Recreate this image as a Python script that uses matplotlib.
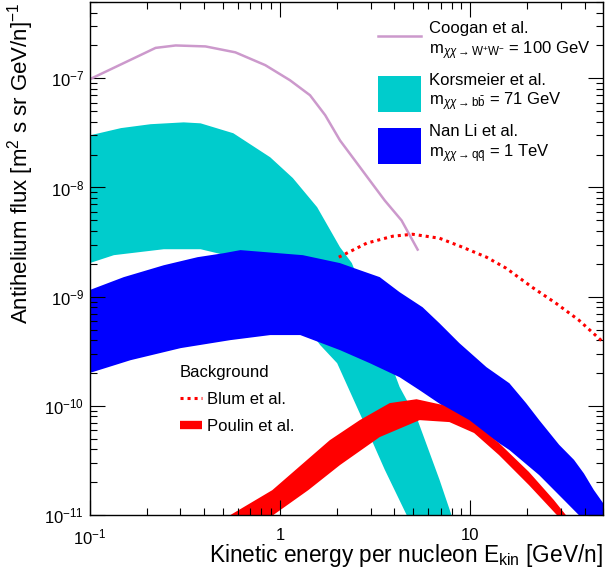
import numpy as np
import matplotlib
matplotlib.use('Agg')
import matplotlib.pyplot as plt
from matplotlib.lines import Line2D
from matplotlib.patches import Patch
from matplotlib.ticker import FixedLocator, FixedFormatter, LogLocator, NullFormatter

plt.rcParams['font.family'] = ['Liberation Sans', 'DejaVu Sans']
plt.rcParams['mathtext.fontset'] = 'custom'
plt.rcParams['mathtext.rm'] = 'Liberation Sans'
plt.rcParams['mathtext.it'] = 'Liberation Sans:italic'
plt.rcParams['mathtext.bf'] = 'Liberation Sans:bold'
plt.rcParams['mathtext.sf'] = 'Liberation Sans'

# --- data (E_kin in GeV/n, flux in [m^2 s sr GeV/n]^-1) ---
coogan_e = [0.1, 0.222, 0.283, 0.406, 0.583, 0.838, 1.13, 1.44, 1.73, 2.07, 2.48, 2.97, 3.56, 4.36, 5.3]
coogan_flux = [9.8e-8, 1.9e-7, 2.0e-7, 1.96e-7, 1.73e-7, 1.32e-7, 9.6e-8, 7.0e-8, 4.6e-8,
               2.7e-8, 1.77e-8, 1.16e-8, 7.6e-9, 5.0e-9, 2.7e-9]

korsmeier_hi_e = [0.1, 0.146, 0.209, 0.312, 0.383, 0.569, 0.890, 1.17, 1.57, 2.07, 2.39, 3.15,
                  4.26, 5.3, 6.91, 7.98, 8.3]
korsmeier_hi = [3.0e-8, 3.5e-8, 3.8e-8, 3.95e-8, 3.87e-8, 3.14e-8, 1.89e-8, 1.22e-8, 6.6e-9,
                2.84e-9, 2.03e-9, 6.1e-10, 1.49e-10, 7.4e-11, 2.1e-11, 1.0e-11, 8e-12]
korsmeier_lo_e = [0.1, 0.134, 0.245, 0.383, 0.517, 0.789, 1.13, 1.63, 2.00, 2.73, 3.56, 4.64, 4.9]
korsmeier_lo = [2.03e-9, 2.4e-9, 2.72e-9, 2.72e-9, 2.4e-9, 1.57e-9, 8.4e-10, 3.6e-10, 2.46e-10,
                7.4e-11, 2.6e-11, 1.0e-11, 8e-12]

nanli_hi_e = [0.1, 0.151, 0.245, 0.369, 0.505, 0.620, 1.32, 2.07, 2.63, 3.35, 4.26, 5.63, 6.91,
              8.79, 12.2, 16.1, 19.7, 23.1, 29.4, 35.2, 39.7, 44.7, 50, 60]
nanli_hi = [1.15e-9, 1.51e-9, 1.94e-9, 2.30e-9, 2.50e-9, 2.67e-9, 2.40e-9, 2.03e-9, 1.75e-9,
            1.51e-9, 1.10e-9, 8.0e-10, 5.7e-10, 3.75e-10, 2.26e-10, 1.61e-10, 1.06e-10, 7.4e-11,
            4.4e-11, 3.2e-11, 2.4e-11, 1.7e-11, 1.29e-11, 9e-12]
nanli_lo_e = [0.1, 0.164, 0.301, 0.549, 0.890, 1.28, 2.07, 2.97, 4.26, 5.43, 7.79, 11.2, 16.1,
              23.1, 31.2, 37.3, 42]
nanli_lo = [2.0e-10, 2.62e-10, 3.38e-10, 4.0e-10, 4.45e-10, 4.45e-10, 3.24e-10, 2.46e-10,
            1.83e-10, 1.39e-10, 9.1e-11, 6.0e-11, 3.94e-11, 2.32e-11, 1.37e-11, 1.0e-11, 7.5e-12]

blum_e = [2.04, 2.86, 3.92, 4.99, 6.91, 9.12, 12.2, 15.5, 21.2, 28.3, 37.3, 50]
blum_flux = [2.30e-9, 3.09e-9, 3.58e-9, 3.73e-9, 3.43e-9, 2.84e-9, 2.30e-9, 1.82e-9, 1.22e-9,
             8.7e-10, 6.1e-10, 3.84e-10]

poulin_hi_e = [0.499, 0.549, 0.912, 1.83, 2.63, 3.78, 5.23, 7.16, 9.92, 14.2, 20.4, 27.6, 31.9, 33.9]
poulin_hi = [9.0e-12, 1.0e-11, 1.69e-11, 4.85e-11, 7.4e-11, 1.06e-10, 1.15e-10, 1.02e-10, 7.4e-11,
             4.56e-11, 2.48e-11, 1.37e-11, 1.0e-11, 8.6e-12]
poulin_lo_e = [0.848, 0.923, 1.41, 2.07, 3.35, 5.43, 7.79, 10.5, 14.2, 20.4, 28.6, 30.1]
poulin_lo = [9.0e-12, 1.0e-11, 1.69e-11, 2.87e-11, 5.18e-11, 7.4e-11, 7.1e-11, 5.64e-11, 3.54e-11,
             1.88e-11, 1.0e-11, 9.0e-12]

x_ticks = [0.1, 1, 10]
x_tick_labels = ['$10^{-1}$', '1', '10']
y_ticks = [1e-11, 1e-10, 1e-9, 1e-8, 1e-7]
y_tick_labels = ['$10^{-11}$', '$10^{-10}$', '$10^{-9}$', '$10^{-8}$', '$10^{-7}$']

c_coogan = '#cc99cc'
c_kors = '#00cccc'
c_nanli = '#0000ff'
c_red = '#ff0000'


def band(ax, e_hi, f_hi, e_lo, f_lo, color):
    xs = list(e_hi) + list(e_lo)[::-1]
    ys = list(f_hi) + list(f_lo)[::-1]
    return ax.fill(xs, ys, color=color, lw=0)


fig = plt.figure(figsize=(6.05, 5.75), dpi=100)
ax = fig.add_axes([0.1483, 0.1043, 0.8484, 0.8922])
ax.set_xscale('log')
ax.set_yscale('log')

band(ax, korsmeier_hi_e, korsmeier_hi, korsmeier_lo_e, korsmeier_lo, c_kors)
band(ax, nanli_hi_e, nanli_hi, nanli_lo_e, nanli_lo, c_nanli)
ax.plot(coogan_e, coogan_flux, color=c_coogan, lw=1.8)
band(ax, poulin_hi_e, poulin_hi, poulin_lo_e, poulin_lo, c_red)
ax.plot(blum_e, blum_flux, color=c_red, lw=2.2, linestyle=(0, (1, 1.3)), dash_capstyle='butt')

ax.set_xlim(0.1, 50)
ax.set_ylim(1e-11, 5e-7)

# ROOT-like ticks
ax.xaxis.set_major_locator(FixedLocator(x_ticks))
ax.xaxis.set_major_formatter(FixedFormatter(x_tick_labels))
ax.xaxis.set_minor_locator(LogLocator(base=10, subs=np.arange(2, 10)))
ax.xaxis.set_minor_formatter(NullFormatter())
ax.yaxis.set_major_locator(FixedLocator(y_ticks))
ax.yaxis.set_major_formatter(FixedFormatter(y_tick_labels))
ax.yaxis.set_minor_locator(LogLocator(base=10, subs=np.arange(2, 10)))
ax.yaxis.set_minor_formatter(NullFormatter())
ax.tick_params(which='both', direction='in', top=True, right=True, width=0.8, labelsize=12)
ax.tick_params(which='major', length=10.5)
ax.tick_params(which='minor', length=5)
ax.tick_params(axis='x', which='major', pad=9)
ax.tick_params(axis='y', which='major', pad=4)
for s in ax.spines.values():
    s.set_linewidth(1.0)

ax.set_xlabel(r'Kinetic energy per nucleon E$_{\mathrm{kin}}$ [GeV/n]', fontsize=16.3, loc='right')
ax.xaxis.set_label_coords(1.0, -0.052)
ax.set_ylabel(r'Antihelium flux [m$^{2}$ s sr GeV/n]$^{-1}$', fontsize=16, loc='top')
ax.yaxis.set_label_coords(-0.105, 1.0)

# signal legend
sig_handles = [Line2D([], [], color=c_coogan, lw=1.8),
               Patch(facecolor=c_kors, edgecolor='none'),
               Patch(facecolor=c_nanli, edgecolor='none')]
sig_labels = ['Coogan et al.\n' + r'm$_{\chi\chi\rightarrow\mathrm{W^{+}W^{-}}}$ = 100 GeV',
              'Korsmeier et al.\n' + r'm$_{\chi\chi\rightarrow\mathrm{b\bar{b}}}$ = 71 GeV',
              'Nan Li et al.\n' + r'm$_{\chi\chi\rightarrow\mathrm{q\bar{q}}}$ = 1 TeV']
leg1 = ax.legend(sig_handles, sig_labels, loc='upper left', bbox_to_anchor=(0.5617, 0.963),
                 frameon=False, fontsize=12, handlelength=2.58, handleheight=3.0,
                 handletextpad=0.45, labelspacing=0.67, borderpad=0, borderaxespad=0)
ax.add_artist(leg1)

# background legend
bg_handles = [Line2D([], [], color=c_red, lw=2.2, linestyle=(0, (1, 1.3))),
              Line2D([], [], color=c_red, lw=6, solid_capstyle='butt')]
bg_labels = ['Blum et al.', 'Poulin et al.']
leg2 = ax.legend(bg_handles, bg_labels, title='Background', loc='upper left',
                 bbox_to_anchor=(0.176, 0.292), frameon=False, fontsize=12,
                 title_fontsize=12, handlelength=1.3, handletextpad=0.3,
                 labelspacing=0.72, borderpad=0, borderaxespad=0, alignment='left')

fig.savefig('out.png', dpi=100)
